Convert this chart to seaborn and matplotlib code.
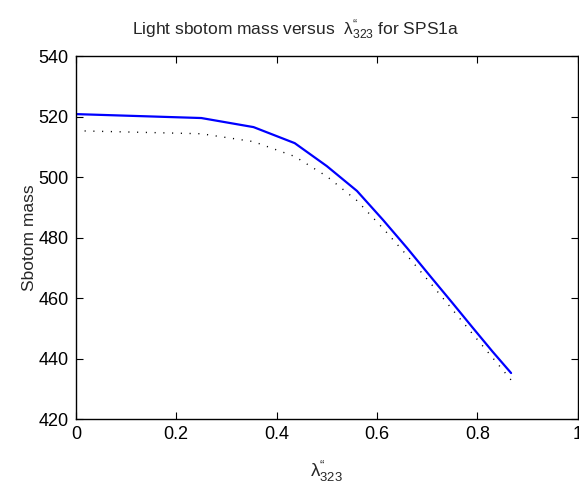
import numpy as np
import pandas as pd
import matplotlib
matplotlib.use("Agg")
import matplotlib.pyplot as plt
import seaborn as sns

# coupling values and light sbottom masses
lam = [0.0, 0.25, 0.354, 0.436, 0.5, 0.56, 0.612, 0.66, 0.707, 0.75, 0.79, 0.83, 0.867]
mass_solid = [520.8, 519.5, 516.5, 511.2, 503.6, 495.4, 485.8, 476.5, 467.0, 458.4, 450.3, 442.3, 435.2]
mass_dotted = [515.3, 514.3, 511.7, 506.8, 500.2, 492.2, 483.0, 474.0, 464.8, 456.2, 448.2, 440.3, 432.9]

xticks = [0, 0.2, 0.4, 0.6, 0.8, 1]
yticks = [420, 440, 460, 480, 500, 520, 540]

sns.set_style("ticks")
plt.rcParams['font.family'] = ['Liberation Sans', 'DejaVu Sans']
plt.rcParams['mathtext.fontset'] = 'custom'
plt.rcParams['mathtext.rm'] = 'Liberation Sans'
plt.rcParams['mathtext.it'] = 'Liberation Sans:italic'
plt.rcParams['mathtext.default'] = 'regular'

df = pd.DataFrame({'lam': lam, 'solid': mass_solid, 'dotted': mass_dotted})

fig = plt.figure(figsize=(5.79, 4.83), dpi=100)
ax = fig.add_axes([0.131, 0.1325, 0.867, 0.7515])

sns.lineplot(data=df, x='lam', y='dotted', ax=ax, color='black', lw=1.0,
             linestyle=(0, (0.8, 5.5)))
sns.lineplot(data=df, x='lam', y='solid', ax=ax, color=(0, 0, 1), lw=1.6)

ax.set_xlim(0, 1)
ax.set_ylim(420, 540)
ax.set_xticks(xticks)
ax.set_xticklabels(['0', '0.2', '0.4', '0.6', '0.8', '1'])
ax.set_yticks(yticks)
ax.tick_params(direction='in', length=5, width=0.8, labelsize=13,
               top=True, right=True, colors='black', pad=5)
for s in ax.spines.values():
    s.set_visible(True)
    s.set_linewidth(1.0)
    s.set_color('black')

lab = '$\\lambda^{\u201c}_{323}$'
ax.set_xlabel(lab, fontsize=13.5)
ax.xaxis.set_label_coords(0.5, -0.11)
ax.set_ylabel('Sbotom mass', fontsize=12.5)
ax.yaxis.set_label_coords(-0.078, 0.5)
ax.set_title('Light sbotom mass versus  ' + lab + ' for SPS1a', fontsize=12.5,
             x=0.438, pad=15)

fig.savefig('out.png', dpi=100)
